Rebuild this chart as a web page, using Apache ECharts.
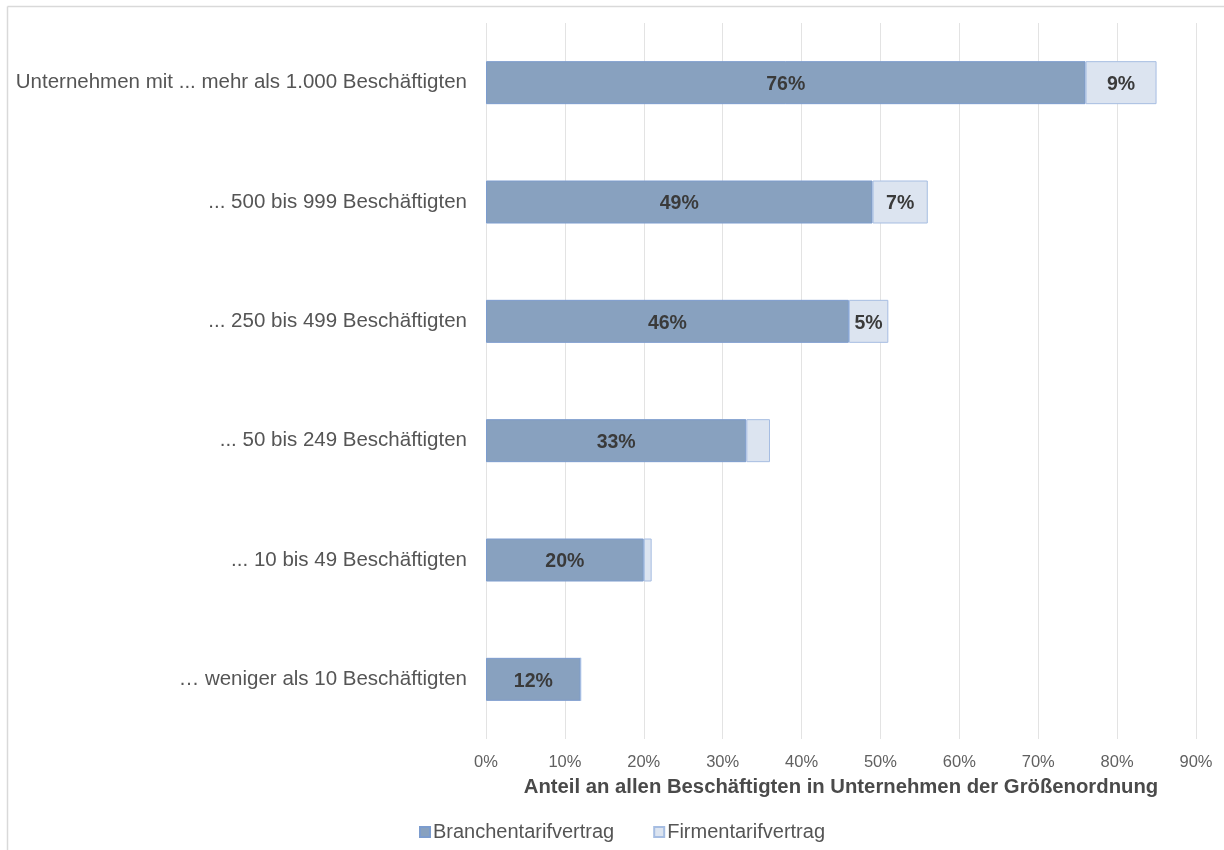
<!DOCTYPE html>
<html><head><meta charset="utf-8">
<script src="https://cdn.jsdelivr.net/npm/echarts@6/dist/echarts.min.js"></script>
<style>html,body{margin:0;padding:0;background:#fff}#c{width:1224px;height:850px}</style>
</head><body><div id="c"></div>
<script>
var categories = ['… weniger als 10 Beschäftigten', '... 10 bis 49 Beschäftigten', '... 50 bis 249 Beschäftigten', '... 250 bis 499 Beschäftigten', '... 500 bis 999 Beschäftigten', 'Unternehmen mit ... mehr als 1.000 Beschäftigten'];
var branchen = [12, 20, 33, 46, 49, 76];
var firmen = [0, 1, 3, 5, 7, 9];
var xTicks = [0, 10, 20, 30, 40, 50, 60, 70, 80, 90];

var chart = echarts.init(document.getElementById('c'));
var font = 'Liberation Sans, Arial, sans-serif';
chart.setOption({
  animation: false,
  textStyle: {fontFamily: font},
  graphic: [
    {type: 'line', shape: {x1: 7.5, y1: 6.5, x2: 1224, y2: 6.5}, style: {stroke: '#d9d9d9', lineWidth: 1.5}},
    {type: 'line', shape: {x1: 7.5, y1: 6.5, x2: 7.5, y2: 850}, style: {stroke: '#d9d9d9', lineWidth: 1.5}}
  ],
  grid: {left: 486, right: 28, top: 23, bottom: 111, containLabel: false},
  xAxis: {
    type: 'value', min: 0, max: 90, interval: 10,
    axisLine: {show: false}, axisTick: {show: false},
    splitLine: {lineStyle: {color: '#e3e3e3', width: 1}},
    axisLabel: {formatter: function (v) { return xTicks.indexOf(v) >= 0 ? v + '%' : ''; }, color: '#606060', fontSize: 16.5, margin: 15},
    name: 'Anteil an allen Beschäftigten in Unternehmen der Größenordnung',
    nameLocation: 'middle', nameGap: 38,
    nameTextStyle: {fontSize: 20.3, fontWeight: 'bold', color: '#4a4a4a'}
  },
  yAxis: {
    type: 'category', data: categories,
    axisLine: {show: false}, axisTick: {show: false},
    axisLabel: {color: '#555555', fontSize: 20.5, margin: 19}
  },
  legend: {
    bottom: 3, left: 414, itemWidth: 10, itemHeight: 10, itemGap: 39,
    icon: 'rect',
    textStyle: {fontSize: 20, color: '#555555', padding: [0, 0, 0, -2]},
    data: ['Branchentarifvertrag', 'Firmentarifvertrag']
  },
  series: [
    {
      name: 'Branchentarifvertrag', type: 'bar', stack: 's', data: branchen, barWidth: 43,
      itemStyle: {color: '#88a1bf', borderColor: '#7c9cce', borderWidth: 1},
      label: {show: true, position: 'inside', offset: [0, 2], formatter: '{c}%', fontSize: 19.5, fontWeight: 'bold', color: '#3a3a3a'}
    },
    {
      name: 'Firmentarifvertrag', type: 'bar', stack: 's', data: firmen, barWidth: 43,
      itemStyle: {color: '#dce4f0', borderColor: '#a6bde2', borderWidth: 1},
      label: {show: true, position: 'inside', offset: [0, 2], fontSize: 19.5, fontWeight: 'bold', color: '#3a3a3a',
        formatter: function (p) { return p.value >= 5 ? p.value + '%' : ''; }}
    }
  ]
});
</script></body></html>
